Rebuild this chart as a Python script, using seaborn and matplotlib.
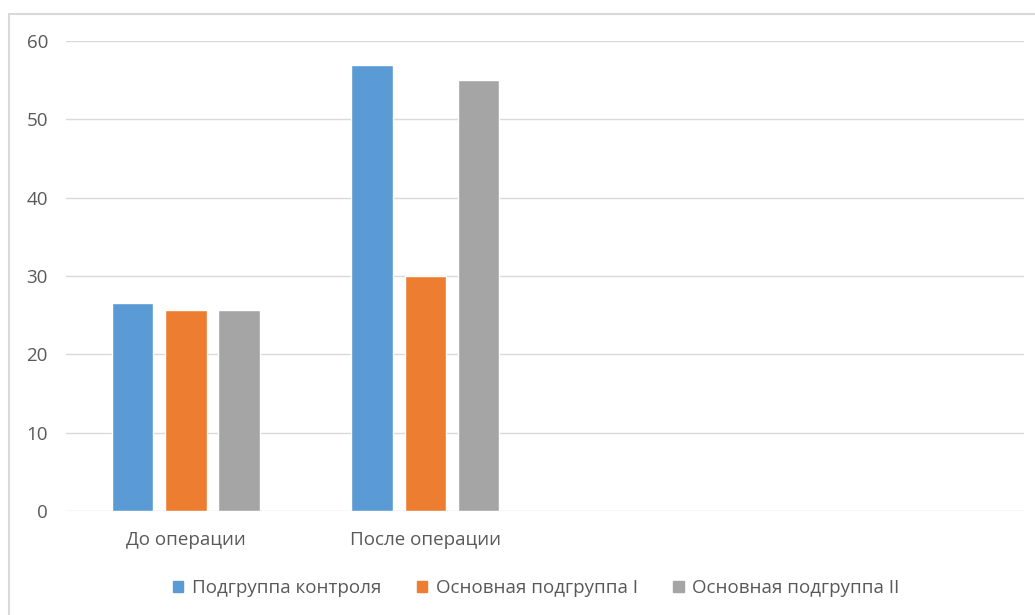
import matplotlib
matplotlib.use("Agg")
import matplotlib.pyplot as plt
from matplotlib.patches import Rectangle
import pandas as pd
import seaborn as sns

categories = ["До операции", "После операции"]
series = ["Подгруппа контроля", "Основная подгруппа I", "Основная подгруппа II"]
control = [26.6, 56.9]
main_1 = [25.7, 30.0]
main_2 = [25.7, 55.0]
colors = ["#5B9BD5", "#ED7D31", "#A5A5A5"]

df = pd.DataFrame({
    "cat": categories * 3,
    "group": [s for s in series for _ in categories],
    "value": control + main_1 + main_2,
})

sns.set_theme(style="white")
plt.rcParams["font.family"] = ["Open Sans", "DejaVu Sans"]

fig = plt.figure(figsize=(10.35, 6.15), dpi=100)
ax = fig.add_axes([0.0638, 0.169, 0.9256, 0.7643])

sns.barplot(data=df, x="cat", y="value", hue="group", palette=colors,
            width=0.666, gap=0.22, saturation=1, legend=False, ax=ax)

ax.set_xlim(-0.5, 3.5)  # chart leaves room for two more empty categories
ax.set_ylim(0, 60)
ax.set_yticks(range(0, 61, 10))
ax.yaxis.grid(True, color="#D9D9D9", lw=1)
ax.set_axisbelow(True)
for sp in ax.spines.values():
    sp.set_visible(False)
ax.tick_params(axis="both", length=0, colors="#595959", labelsize=13.5)
ax.tick_params(axis="y", pad=13)
ax.tick_params(axis="x", pad=14)
ax.set_xlabel("")
ax.set_ylabel("")

handles = [Rectangle((0, 0), 1, 1, color=c) for c in colors]
fig.legend(handles, series, loc="center", bbox_to_anchor=(0.518, 0.044), ncol=3,
           frameon=False, fontsize=13.5, labelcolor="#595959",
           handlelength=0.55, handleheight=0.55, handletextpad=0.45, columnspacing=1.9)

# chart area border
fig.patches.append(Rectangle((0.0087, -0.1), 1.1, 1.077, transform=fig.transFigure,
                             fill=False, edgecolor="#D9D9D9", lw=1.5))

fig.savefig("out.png", dpi=100)
